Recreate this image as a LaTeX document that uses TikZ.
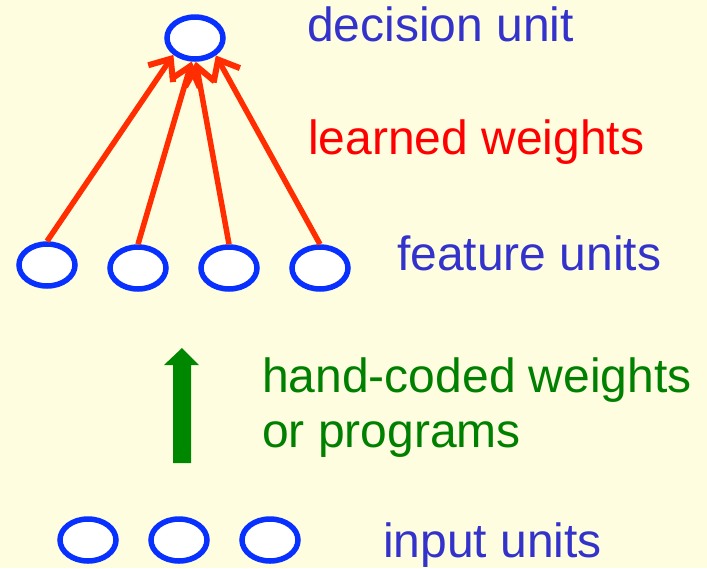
\documentclass[tikz,border=0pt]{standalone}
\usepackage{fontspec}
\setmainfont{Liberation Sans}
\usetikzlibrary{shapes.geometric,arrows.meta}
\definecolor{bgcol}{RGB}{255,253,224}
\definecolor{unitblue}{RGB}{8,48,255}
\definecolor{txtblue}{RGB}{51,51,204}
\definecolor{txtred}{RGB}{255,0,0}
\definecolor{arrred}{RGB}{255,45,0}
\definecolor{txtgreen}{RGB}{0,128,0}
\definecolor{arrgreen}{RGB}{0,135,0}
\tikzset{
  unit/.style={ellipse, draw=unitblue, fill=white, line width=5.5pt,
    minimum width=56pt, minimum height=42pt, inner sep=0pt},
  weight/.style={draw=arrred, line width=5.5pt,
    -{Straight Barb[length=18pt,width=30pt,line width=6pt]}},
  lbl/.style={anchor=base west, inner sep=0pt, font=\fontsize{48}{55}\selectfont},
}
\begin{document}
\begin{tikzpicture}[x=1pt,y=-1pt]
\fill[bgcol] (0,0) rectangle (707,568);
\useasboundingbox (0,0) rectangle (707,568);
% units
\node[unit] (d) at (195,38) {};
\node[unit] (f1) at (47,265) {};
\node[unit] (f2) at (138,268) {};
\node[unit] (f3) at (229,268) {};
\node[unit] (f4) at (320,268) {};
\node[unit] (i1) at (88,540) {};
\node[unit] (i2) at (179,540) {};
\node[unit] (i3) at (270,540) {};
% learned weights
\draw[weight] (f1.north) -- (d.218);
\draw[weight] (f2.north) -- (d.262);
\draw[weight] (f3.north) -- (d.272);
\draw[weight] (f4.north) -- (d.320);
% hand-coded weights arrow
\fill[arrgreen] (173,463) -- (191,463) -- (191,365) -- (199,365) -- (182,348)
  -- (164,365) -- (173,365) -- cycle;
% labels
\node[lbl, text=txtblue] (tdec) at (307,41) {decision unit};
\node[lbl, text=txtred] (tlearn) at (308,154) {learned weights};
\node[lbl, text=txtblue] (tfeat) at (397,270) {feature units};
\node[lbl, text=txtgreen, align=left] (thand) at (262,447) {hand-coded weights\\or programs};
\node[lbl, text=txtblue] (tin) at (383,557) {input units};
\end{tikzpicture}
\end{document}
